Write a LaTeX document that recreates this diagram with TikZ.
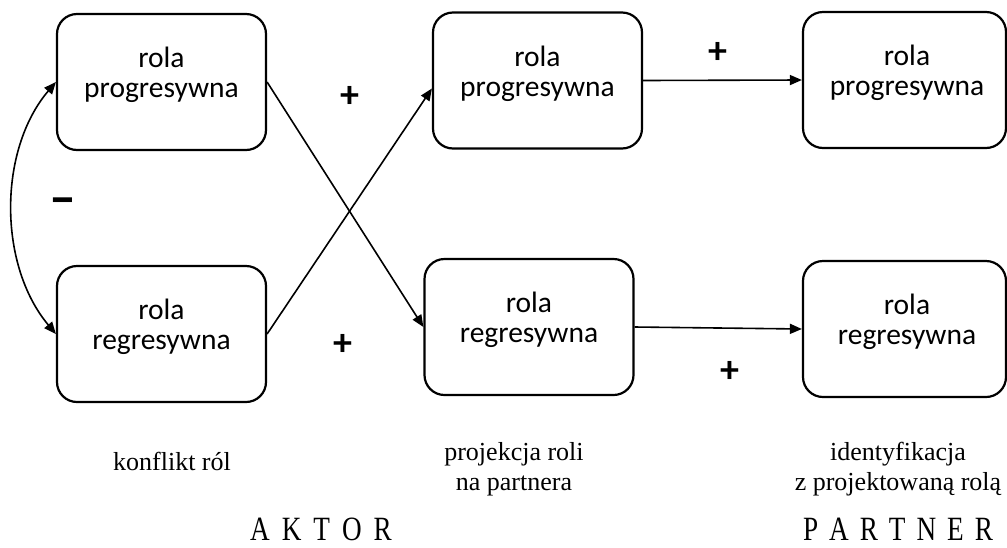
\documentclass[tikz,border=0pt]{standalone}
\usepackage{fontspec}
\setmainfont{Liberation Serif}
\newfontfamily\boxfont{Carlito}
\newfontfamily\headfont[FakeStretch=0.8]{Liberation Serif}
\usetikzlibrary{arrows.meta}
\begin{document}
\begin{tikzpicture}[x=1pt,y=-1pt,
  rbox/.style={draw, line width=2.2pt, rounded corners=20pt, minimum width=209pt, minimum height=136pt, inner sep=0pt},
  rboxr/.style={rbox, minimum width=203pt},
  rtext/.style={align=center, font=\boxfont\fontsize{29.5}{30}\selectfont, inner sep=0pt},
  sign/.style={font=\boxfont\bfseries\fontsize{38}{38}\selectfont, inner sep=0pt},
  dashsign/.style={font=\boxfont\bfseries\fontsize{54}{54}\selectfont, inner sep=0pt},
  captext/.style={font=\fontsize{26}{30}\selectfont, inner sep=0pt, align=center},
  headtext/.style={font=\headfont\fontsize{34}{36}\selectfont, inner sep=0pt},
  tip/.tip={Triangle[length=12pt,width=10pt]},
  conn/.style={line width=1.6pt, -tip},
]
\useasboundingbox (0,0) rectangle (1007,547);

% boxes
\node[rbox] (b1) at (161.5,82) {};
\node[rbox] (b4) at (161.5,334) {};
\node[rbox] (b2) at (537.5,80.5) {};
\node[rbox] (b5) at (529,327) {};
\node[rboxr] (b3) at (904.5,80) {};
\node[rboxr] (b6) at (904.5,329) {};

% box texts
\node[rtext] (t1) at ([yshift=7pt]b1.center) {rola\\progresywna};
\node[rtext] (t4) at ([yshift=7pt]b4.center) {rola\\regresywna};
\node[rtext] (t2) at ([yshift=7pt]b2.center) {rola\\progresywna};
\node[rtext] (t5) at ([yshift=7pt]b5.center) {rola\\regresywna};
\node[rtext] (t3) at ([xshift=2.5pt,yshift=7pt]b3.center) {rola\\progresywna};
\node[rtext] (t6) at ([xshift=2.5pt,yshift=7pt]b6.center) {rola\\regresywna};

% connectors
\draw[conn] (b1.east) -- (b5.west);
\draw[conn] (b4.east) -- ([yshift=-8pt]b2.west);
\draw[conn] (b2.east) -- (b3.west);
\draw[conn] (b5.east) -- (b6.west);
\draw[line width=1.6pt, tip-tip] (b1.west) .. controls (-2,150) and (-2,265) .. (b4.west);

% signs
\node[sign] (p1) at (350,97) {+};
\node[sign] (p2) at (343,345) {+};
\node[sign] (p3) at (718,53) {+};
\node[sign] (p4) at (730,372) {+};
\node[dashsign] (m1) at (63,207) {–};

% captions
\node[captext, anchor=base] (k1) at (172,470) {konflikt ról};
\node[captext] (k2) at (514,468.9) {projekcja roli\\na partnera};
\node[captext] (k3) at (898,468.9) {identyfikacja\\z projektowaną rolą};
\node[headtext, anchor=base] (h1) at (321,540) {\spaceskip=12pt\relax A K T O R};
\node[headtext, anchor=base] (h2) at (898,540) {\spaceskip=11pt\relax P A R T N E R};
\end{tikzpicture}
\end{document}
